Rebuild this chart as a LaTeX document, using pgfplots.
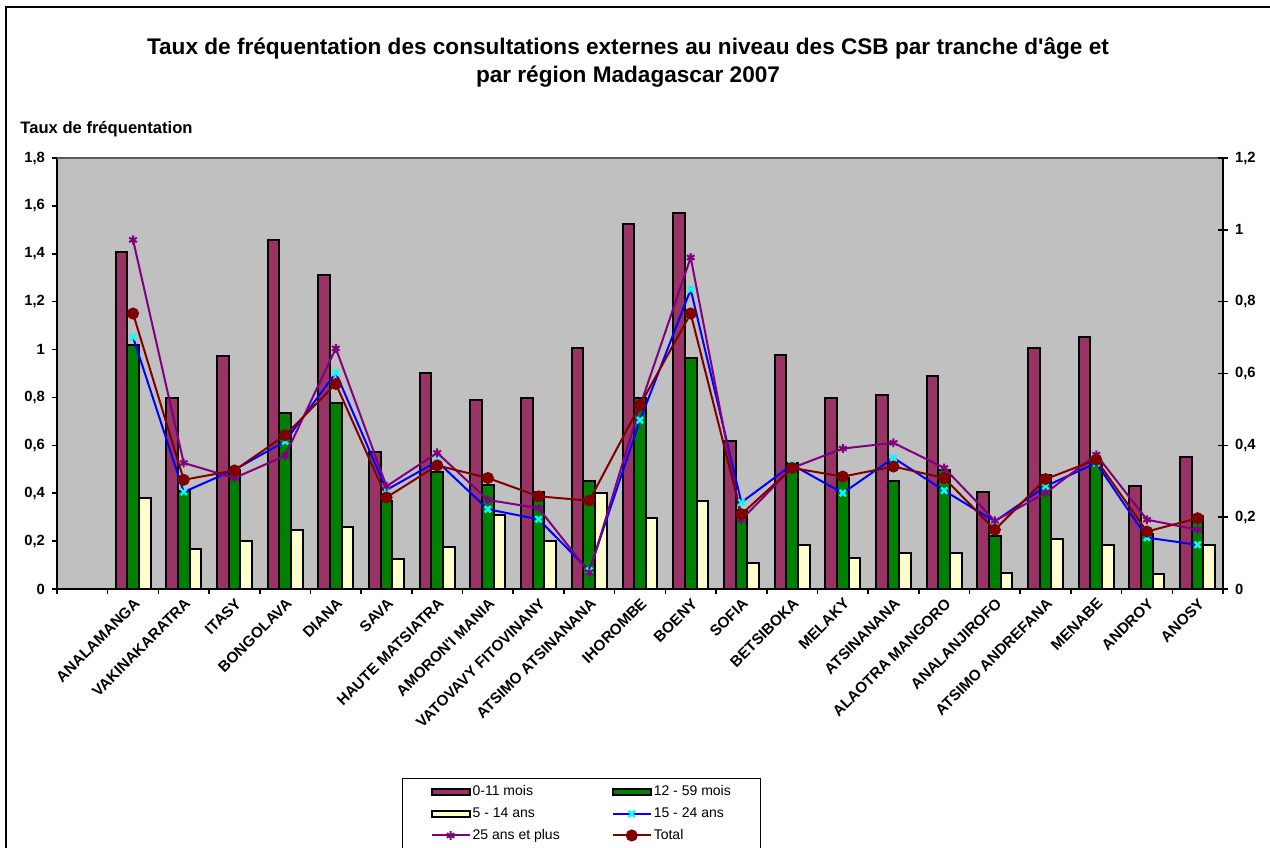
\documentclass[border=0pt]{standalone}
\usepackage{fontspec}
\setmainfont{Liberation Sans}
\usepackage{pgfplots}
\pgfplotsset{compat=1.18}
\usepackage{pgfplotstable}
\definecolor{cA}{HTML}{993366}
\definecolor{cB}{HTML}{008000}
\definecolor{cC}{HTML}{FFFFCC}
\definecolor{cD}{HTML}{0000FF}
\definecolor{cDm}{HTML}{00FFFF}
\definecolor{cE}{HTML}{800080}
\definecolor{cT}{HTML}{800000}
\definecolor{bgc}{HTML}{C0C0C0}
\pgfplotstableread{
x a b c d e t
1 1.409 1.021 0.382 0.701 0.972 0.767
2 0.798 0.410 0.167 0.270 0.351 0.304
3 0.975 0.495 0.201 0.332 0.309 0.330
4 1.458 0.735 0.247 0.411 0.371 0.428
5 1.312 0.777 0.261 0.602 0.670 0.571
6 0.572 0.366 0.124 0.276 0.286 0.255
7 0.903 0.487 0.177 0.355 0.379 0.344
8 0.791 0.435 0.310 0.222 0.248 0.309
9 0.798 0.407 0.201 0.194 0.225 0.258
10 1.005 0.453 0.403 0.051 0.046 0.246
11 1.524 0.798 0.296 0.470 0.509 0.512
12 1.572 0.966 0.368 0.834 0.923 0.767
13 0.617 0.330 0.107 0.241 0.193 0.208
14 0.977 0.526 0.184 0.346 0.337 0.337
15 0.798 0.463 0.128 0.267 0.391 0.313
16 0.809 0.453 0.149 0.365 0.407 0.341
17 0.889 0.495 0.152 0.274 0.337 0.309
18 0.405 0.223 0.068 0.188 0.190 0.165
19 1.007 0.477 0.209 0.286 0.267 0.306
20 1.052 0.530 0.184 0.351 0.374 0.360
21 0.431 0.228 0.063 0.143 0.193 0.160
22 0.551 0.303 0.184 0.123 0.165 0.197
}\data
\begin{document}
\begin{tikzpicture}
\path[use as bounding box] (0,0) rectangle (635pt,423.5pt);
\draw[line width=0.8pt] (3pt,-10pt) -- (3pt,420pt) -- (650pt,420pt);
\node[font=\bfseries\fontsize{11.3}{14}\selectfont, align=center, anchor=base] at (314pt,382pt)
  {Taux de fréquentation des consultations externes au niveau des CSB par tranche d\textquotesingle âge et\\ par région Madagascar 2007};
\node[font=\bfseries\fontsize{8.3}{10}\selectfont, anchor=base west, inner sep=0pt] at (10pt,356.5pt) {Taux de fréquentation};
\begin{axis}[
  at={(28.5pt,129pt)}, anchor=south west,
  width=583pt, height=215.5pt, scale only axis,
  xmin=-0.5, xmax=22.5, ymin=0, ymax=1.8,
  axis x line*=bottom, axis y line*=left,
  axis background/.style={fill=bgc},
  axis line style={line width=0.8pt, black},
  ytick={0,0.2,0.4,0.6,0.8,1,1.2,1.4,1.6,1.8},
  /pgf/number format/.cd, fixed, precision=1, use comma, assume math mode=true, /pgfplots/.cd,
  yticklabel style={font=\bfseries\fontsize{7.4}{8}\selectfont},
  xtick={1,...,22},
  xticklabels={ANALAMANGA, VAKINAKARATRA, ITASY, BONGOLAVA, DIANA, SAVA, HAUTE MATSIATRA, AMORON\textquotesingle I MANIA, VATOVAVY FITOVINANY, ATSIMO ATSINANANA, IHOROMBE, BOENY, SOFIA, BETSIBOKA, MELAKY, ATSINANANA, ALAOTRA MANGORO, ANALANJIROFO, ATSIMO ANDREFANA, MENABE, ANDROY, ANOSY},
  xticklabel style={rotate=45, anchor=north east, font=\bfseries\fontsize{7.6}{8}\selectfont, inner sep=1pt},
  major x tick style={draw=none},
  minor xtick={-0.5,0.5,...,22.5},
  tick align=outside,
  tick style={black, line width=0.8pt},
  major tick length=2.5pt, minor tick length=2.5pt,
  ybar=0pt, bar width=0.23,
  clip=false,
]
\addplot[fill=cA, draw=black, line width=1pt] table[x=x,y=a]{\data};
\addplot[fill=cB, draw=black, line width=1pt] table[x=x,y=b]{\data};
\addplot[fill=cC, draw=black, line width=1pt] table[x=x,y=c]{\data};
\draw[gray!70!black, line width=0.8pt] (rel axis cs:0,1) -- (rel axis cs:1,1);
\end{axis}
\begin{axis}[
  at={(28.5pt,129pt)}, anchor=south west,
  width=583pt, height=215.5pt, scale only axis,
  xmin=-0.5, xmax=22.5, ymin=0, ymax=1.2,
  axis y line*=right, axis x line=none,
  axis line style={line width=0.8pt, black},
  ytick={0,0.2,0.4,0.6,0.8,1,1.2},
  /pgf/number format/.cd, fixed, precision=1, use comma, assume math mode=true, /pgfplots/.cd,
  yticklabel style={font=\bfseries\fontsize{7.4}{8}\selectfont},
  tick align=center,
  tick style={black, line width=0.8pt},
  major tick length=5pt,
  legend image code/.code={\draw[mark repeat=2,mark phase=2] plot coordinates {(0pt,0pt)(9.5pt,0pt)(19pt,0pt)};},
  legend columns=2,
  legend cell align=left,
  legend style={at={(0.2959,-0.4385)}, anchor=north west, draw=black, line width=0.6pt,
    font=\fontsize{7}{8.4}\selectfont, inner xsep=14pt, inner ysep=3.5pt,
    nodes={inner xsep=1pt, inner ysep=0pt, text height=5.2pt, text depth=1.5pt},
    row sep=4.1pt,
    /tikz/every even column/.append style={column sep=25pt}},
]
\addlegendimage{legend image code/.code={\draw[fill=cA,draw=black,line width=1pt] (0pt,-1.4pt) rectangle (19pt,1.4pt);}}
\addlegendimage{legend image code/.code={\draw[fill=cB,draw=black,line width=1pt] (0pt,-1.4pt) rectangle (19pt,1.4pt);}}
\addlegendimage{legend image code/.code={\draw[fill=cC,draw=black,line width=1pt] (0pt,-1.4pt) rectangle (19pt,1.4pt);}}
\addplot[cD, line width=1pt, mark=x, mark size=2.2pt, mark options={draw=cDm, line width=1.2pt}] table[x=x,y=d]{\data};
\addplot[cE, line width=1pt, mark=asterisk, mark size=2.2pt, mark options={draw=cE, line width=1pt}] table[x=x,y=e]{\data};
\addplot[cT, line width=1pt, mark=*, mark size=2.5pt, mark options={fill=cT, draw=cT}] table[x=x,y=t]{\data};
\legend{0-11 mois, 12 - 59 mois, 5 - 14 ans, 15 - 24 ans, 25 ans et plus, Total\hspace*{2.5pt}}
\end{axis}
\end{tikzpicture}
\end{document}
